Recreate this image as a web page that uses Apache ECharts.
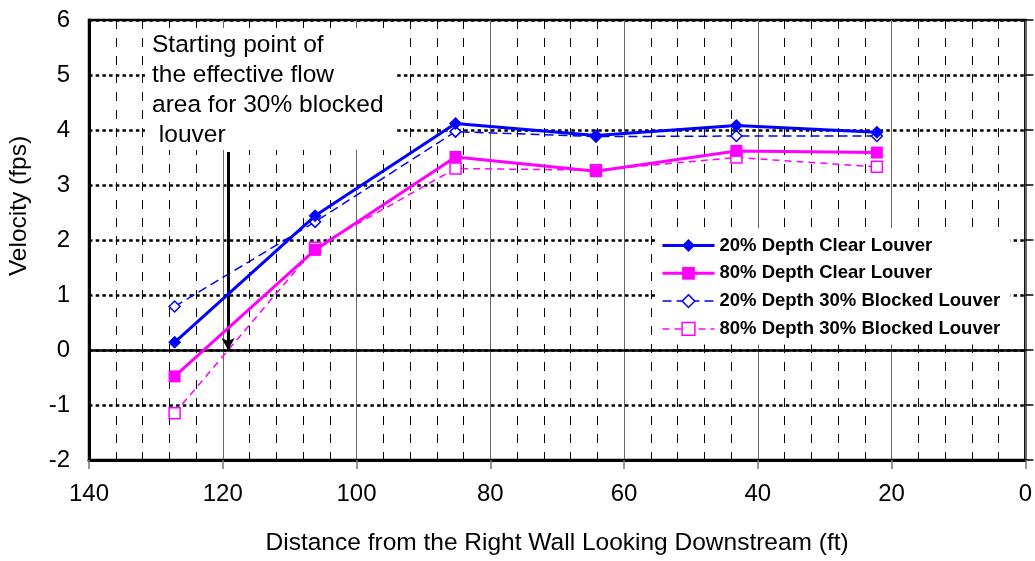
<!DOCTYPE html>
<html>
<head>
<meta charset="utf-8">
<script src="https://cdn.jsdelivr.net/npm/echarts@6/dist/echarts.min.js"></script>
<style>
  html, body { margin: 0; padding: 0; background: #fff; }
  #chart { width: 1035px; height: 561px; }
</style>
</head>
<body>
<div id="chart"></div>
<script>
// Measurement stations, distance from the right wall (ft)
const distances = [127.2, 106.2, 85.2, 64.2, 43.2, 22.2];

// Velocities (fps)
const clear20 = [0.14, 2.44, 4.12, 3.90, 4.08, 3.96];
const clear80 = [-0.48, 1.82, 3.51, 3.25, 3.62, 3.59];
const blocked20 = [0.79, 2.33, 3.97, 3.88, 3.89, 3.89];
const blocked80 = [-1.15, 1.86, 3.30, 3.27, 3.50, 3.33];

const seriesNames = [
  '20% Depth Clear Louver',
  '80% Depth Clear Louver',
  '20% Depth 30% Blocked Louver',
  '80% Depth 30% Blocked Louver'
];

// Start of the effective flow area for the blocked louver (arrow)
const flowStart = 119.2;
const arrowTop = 3.6;

const annotationLines = ['Starting point of', 'the effective flow', 'area for 30% blocked', ' louver'];
const yTitle = 'Velocity (fps)';

const BLUE = '#0000ff';
const MAGENTA = '#ff00ff';
const FONT = '"Liberation Sans", Arial, sans-serif';

const pairs = ys => distances.map((d, i) => [d, ys[i]]);

const chart = echarts.init(document.getElementById('chart'), null, { renderer: 'canvas' });

chart.setOption({
  animation: false,
  backgroundColor: '#fff',
  grid: {
    left: 89, right: 8, top: 20, bottom: 101,
    show: true, borderColor: '#000', borderWidth: 2.5, backgroundColor: 'transparent'
  },
  xAxis: {
    type: 'value', inverse: true, min: 0, max: 140, interval: 20,
    name: 'Distance from the Right Wall Looking Downstream (ft)',
    nameLocation: 'middle', nameGap: 71,
    nameTextStyle: { fontFamily: FONT, fontSize: 24.5, color: '#000', verticalAlign: 'top' },
    axisLine: { onZero: false, lineStyle: { color: '#000', width: 3 } },
    axisTick: { show: true, length: 9, lineStyle: { color: '#777', width: 1.5 } },
    axisLabel: { fontFamily: FONT, fontSize: 24, color: '#000', margin: 22 },
    splitLine: { show: true, lineStyle: { color: '#666', width: 1 } },
    minorTick: { show: false, splitNumber: 5 },
    minorSplitLine: { show: true, lineStyle: { color: '#000', width: 1, type: [9, 9] } }
  },
  yAxis: [{
    type: 'value', min: -2, max: 6, interval: 1,
    axisLine: { onZero: false, lineStyle: { color: '#000', width: 3 } },
    axisTick: { show: false },
    axisLabel: { fontFamily: FONT, fontSize: 24, color: '#000', margin: 19 },
    splitLine: { show: true, lineStyle: { color: '#000', width: 2.5, type: [3.5, 3.2] } }
  }, {
    // tick marks only, on the right-hand border
    type: 'value', position: 'right', min: -2, max: 6, interval: 1,
    axisLine: { show: false },
    axisTick: { show: true, length: 8, lineStyle: { color: '#000', width: 1.5 } },
    axisLabel: { show: false },
    splitLine: { show: false }
  }],
  legend: {
    orient: 'vertical', left: 655, top: 228,
    backgroundColor: '#fff', padding: [8, 10, 6, 6],
    itemWidth: 52, itemHeight: 16, itemGap: 8.8,
    data: seriesNames,
    lineStyle: { width: 'inherit' },
    itemStyle: { borderWidth: 'inherit' },
    textStyle: { fontFamily: FONT, fontSize: 18.5, fontWeight: 'bold', color: '#000' }
  },
  graphic: [
    { type: 'rect', z: 100, shape: { x: 145, y: 28, width: 250, height: 122 }, style: { fill: '#fff' } },
    {
      type: 'text', z: 101, x: 152, y: 30,
      style: {
        text: annotationLines.join('\n'), font: '24.5px ' + FONT, fill: '#000',
        lineHeight: 30
      }
    },
    {
      // vertical axis title
      type: 'text', z: 101, x: 19, y: 206, rotation: Math.PI / 2,
      style: {
        text: yTitle, font: '24.5px ' + FONT, fill: '#000',
        align: 'center', verticalAlign: 'middle'
      }
    }
  ],
  series: [
    {
      name: seriesNames[0], type: 'line', data: pairs(clear20), z: 5,
      symbol: 'diamond', symbolSize: 13,
      lineStyle: { color: BLUE, width: 3 }, itemStyle: { color: BLUE },
      markLine: {
        silent: true, symbol: ['none', 'none'], label: { show: false },
        lineStyle: { color: '#000', width: 2.5, type: 'solid' },
        data: [{ yAxis: 0 }]
      }
    },
    {
      name: seriesNames[1], type: 'line', data: pairs(clear80), z: 5,
      symbol: 'rect', symbolSize: 12,
      lineStyle: { color: MAGENTA, width: 3 }, itemStyle: { color: MAGENTA },
      markLine: {
        silent: true, symbol: ['none', 'arrow'], symbolSize: [10, 12], label: { show: false },
        lineStyle: { color: '#000', width: 3, type: 'solid' },
        data: [[{ coord: [flowStart, arrowTop] }, { coord: [flowStart, 0] }]]
      }
    },
    {
      name: seriesNames[2], type: 'line', data: pairs(blocked20), z: 4,
      symbol: 'diamond', symbolSize: 11,
      lineStyle: { color: BLUE, width: 1.5, type: [9, 5] },
      itemStyle: { color: '#fff', borderColor: BLUE, borderWidth: 1.5 }
    },
    {
      name: seriesNames[3], type: 'line', data: pairs(blocked80), z: 4,
      symbol: 'rect', symbolSize: 11,
      lineStyle: { color: MAGENTA, width: 1.5, type: [7, 5] },
      itemStyle: { color: '#fff', borderColor: MAGENTA, borderWidth: 1.5 }
    }
  ]
});
</script>
</body>
</html>
